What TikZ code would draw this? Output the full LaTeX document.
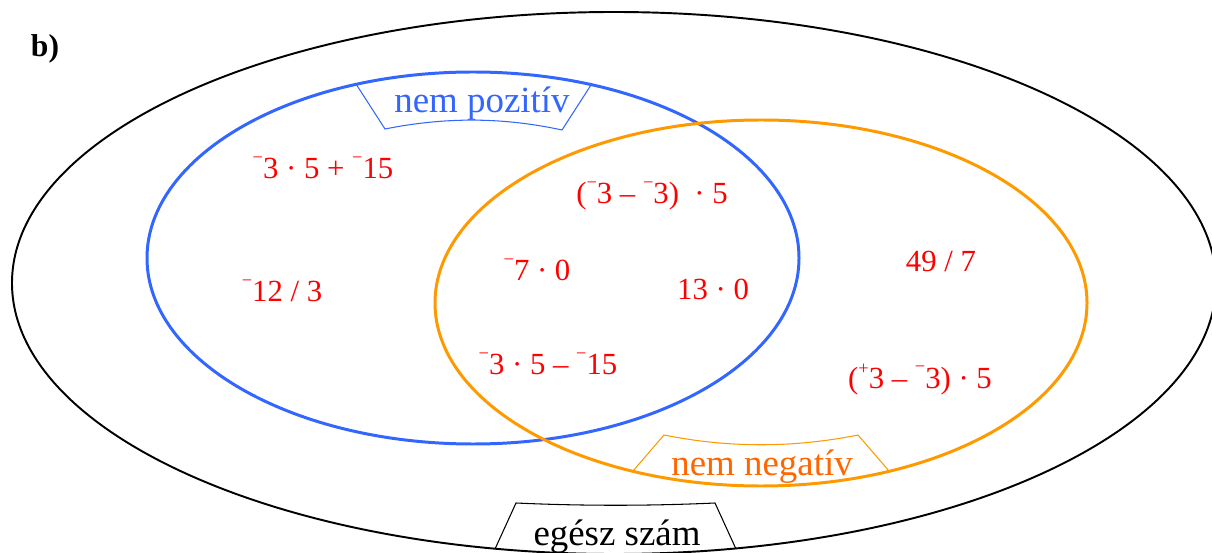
\documentclass[tikz,border=0pt]{standalone}
\usepackage{fontspec}
\setmainfont{Liberation Serif}
\usetikzlibrary{positioning}
\definecolor{kek}{RGB}{51,102,255}
\definecolor{narancs}{RGB}{255,153,0}
\definecolor{narancsbetu}{RGB}{255,102,0}
\newcommand{\negj}{\raisebox{8.8pt}{\fontsize{10.5}{10.5}\selectfont\char"2212}}
\newcommand{\posj}{\raisebox{7.8pt}{\fontsize{10.5}{10.5}\selectfont +}}

\begin{document}
\begin{tikzpicture}[x=0.02cm, y=-0.02cm,
    kifejezes/.style={text=red, font=\fontsize{17.5}{20}\selectfont, inner sep=0pt, anchor=base},
    cimke/.style={font=\fontsize{21}{24}\selectfont, inner sep=0pt, anchor=base},
    halmaz/.style={line width=1.7pt},
    keret/.style={line width=0.6pt}
  ]
    \useasboundingbox (0,0) rectangle (1212,553);

    % halmazok
    \draw[line width=1.1pt] (614,283) ellipse [x radius=602, y radius=271];
    \draw[halmaz, kek] (473,258) ellipse [x radius=326, y radius=186];
    \draw[halmaz, narancs] (761,303) ellipse [x radius=326, y radius=183];

    % cimkek
    \draw[keret, kek] (356,84) -- (385,129) .. controls (445,117) and (502,117) .. (562,130) -- (591,85);
    \draw[keret, narancs] (633,471) -- (664,435) .. controls (729,448) and (793,448) .. (858,435) -- (889,471);
    \draw[keret] (495,549) -- (516,503) .. controls (582,506) and (649,506) .. (715,503) -- (736,549);
    \node[cimke, text=kek] (nempoz) at (482,113) {nem pozitív};
    \node[cimke, text=narancsbetu] (nemneg) at (762,475) {nem negatív};
    \node[cimke] (egesz) at (617,545) {egész szám};

    \node[font=\fontsize{18}{20}\selectfont\bfseries, inner sep=0pt, anchor=base] (b) at (45,57) {b)};

    % kifejezesek
    \node[kifejezes] (k1) at (323,179) {\negj3 · 5 + \negj15};
    \node[kifejezes] (k2) at (282,302) {\negj12 / 3};
    \node[kifejezes] (k3) at (652,204) {(\negj3 – \negj3)\ \ · 5};
    \node[kifejezes] (k4) at (537,281) {\negj7 · 0};
    \node[kifejezes] (k5) at (713,300) {13 · 0};
    \node[kifejezes] (k6) at (548,375) {\negj3 · 5 – \negj15};
    \node[kifejezes] (k7) at (941,272) {49 / 7};
    \node[kifejezes] (k8) at (920,388) {(\posj3 – \negj3) · 5};
  \end{tikzpicture}
\end{document}
